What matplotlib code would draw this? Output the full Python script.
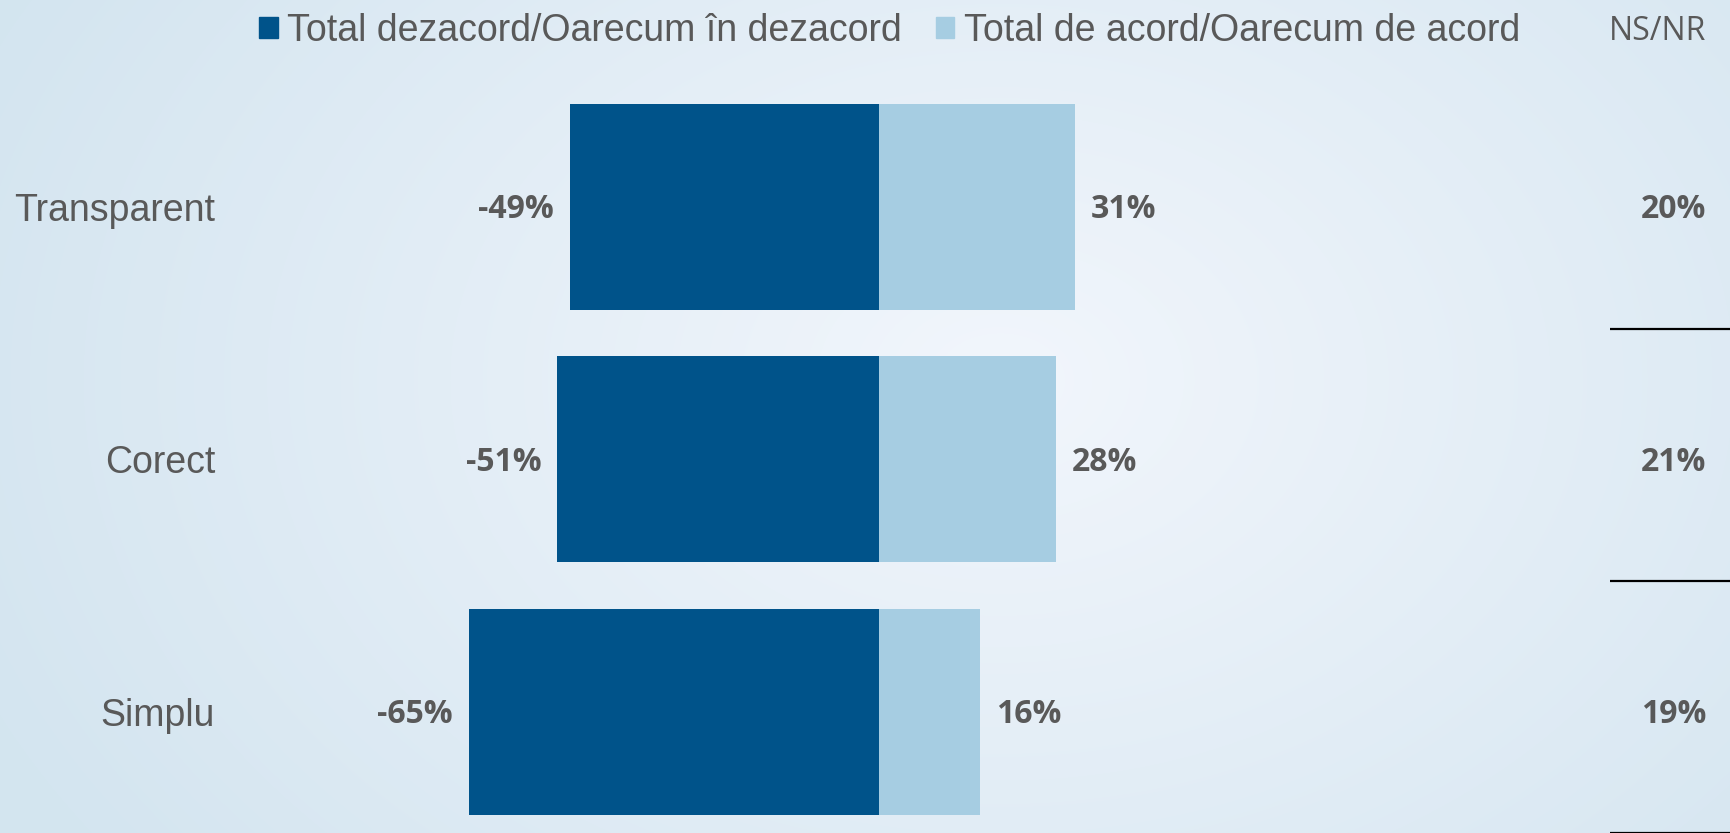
import numpy as np
import matplotlib
matplotlib.use("Agg")
import matplotlib.pyplot as plt
from matplotlib.patches import Patch

# ---- data ----
categories = ["Transparent", "Corect", "Simplu"]
disagree = [49, 51, 65]      # Total dezacord/Oarecum în dezacord (shown negative)
agree = [31, 28, 16]         # Total de acord/Oarecum de acord
nsnr = [20, 21, 19]          # NS/NR
legend_labels = ["Total dezacord/Oarecum în dezacord", "Total de acord/Oarecum de acord"]
nsnr_header = "NS/NR"

# ---- style ----
DARK = "#00538A"
LIGHT = "#A6CDE2"
TXT = "#595959"
W, H, DPI = 1731, 833, 100

fig = plt.figure(figsize=(W / DPI, H / DPI), dpi=DPI)

# background gradient
bg = fig.add_axes([0, 0, 1, 1], zorder=-10)
yy, xx = np.mgrid[0:H, 0:W]
r = np.sqrt(((xx - 1000) / 1100.0) ** 2 + ((yy - 380) / 800.0) ** 2)
r = np.clip(r, 0, 1)[..., None]
c0 = np.array([242, 246, 252]) / 255.0
c1 = np.array([212, 229, 240]) / 255.0
img = c0 * (1 - r) + c1 * r
bg.imshow(img, aspect="auto", extent=[0, 1, 0, 1], origin="upper")
bg.axis("off")

ax = fig.add_axes([0, 0, 1, 1])
ax.set_facecolor("none")
ax.patch.set_alpha(0)

pxu = 6.31          # pixels per percent
zero_px = 879
step_px = 252.3
first_px = 207
ax.set_xlim(-zero_px / pxu, (W - zero_px) / pxu)
ax.set_ylim(2 + (H - (first_px + 2 * step_px)) / step_px, -first_px / step_px)

y = np.arange(len(categories))
neg = [-v for v in disagree]
bh = 0.817
ax.barh(y, neg, height=bh, color=DARK, label=legend_labels[0])
ax.barh(y, agree, height=bh, color=LIGHT, label=legend_labels[1])

dy = -2.0
for i in range(len(categories)):
    ax.annotate(f"-{disagree[i]}%", (neg[i], y[i]), xytext=(-11.5, dy), textcoords="offset points",
                ha="right", va="center", fontsize=23, fontweight="bold", color=TXT, family="Open Sans")
    ax.annotate(f"{agree[i]}%", (agree[i], y[i]), xytext=(11.5, dy), textcoords="offset points",
                ha="left", va="center", fontsize=23, fontweight="bold", color=TXT, family="Open Sans")

# category labels
xl = (215 - zero_px) / pxu
for i, c in enumerate(categories):
    ax.annotate(c, (xl, y[i]), xytext=(0, -3), textcoords="offset points",
                ha="right", va="center", fontsize=27, color=TXT, family="Liberation Sans")

# NS/NR column
xn = (1706 - zero_px) / pxu
for i, v in enumerate(nsnr):
    ax.annotate(f"{v}%", (xn, y[i]), xytext=(0, dy), textcoords="offset points",
                ha="right", va="center", fontsize=23, fontweight="bold",
                color=TXT, family="Open Sans")
x0 = (1610 - zero_px) / pxu
x1 = (W - zero_px) / pxu
for i in range(len(categories)):
    ax.plot([x0, x1], [y[i] + 0.483, y[i] + 0.483], color="black", lw=1.6, solid_capstyle="butt")

ax.axis("off")

# legend
handles = [Patch(color=DARK), Patch(color=LIGHT)]
leg = fig.legend(handles, legend_labels, loc="center left", bbox_to_anchor=(259 / W, 1 - 31 / H),
                 ncol=2, frameon=False, handlelength=0.5, handleheight=0.5, handletextpad=0.25,
                 columnspacing=0.9, borderaxespad=0, borderpad=0,
                 prop={"family": "Liberation Sans", "size": 27})
for t in leg.get_texts():
    t.set_color(TXT)
fig.text(1706 / W, 1 - 32 / H, nsnr_header, ha="right", va="center", fontsize=23,
         color=TXT, family="Open Sans")

fig.savefig("out.png", dpi=DPI)
